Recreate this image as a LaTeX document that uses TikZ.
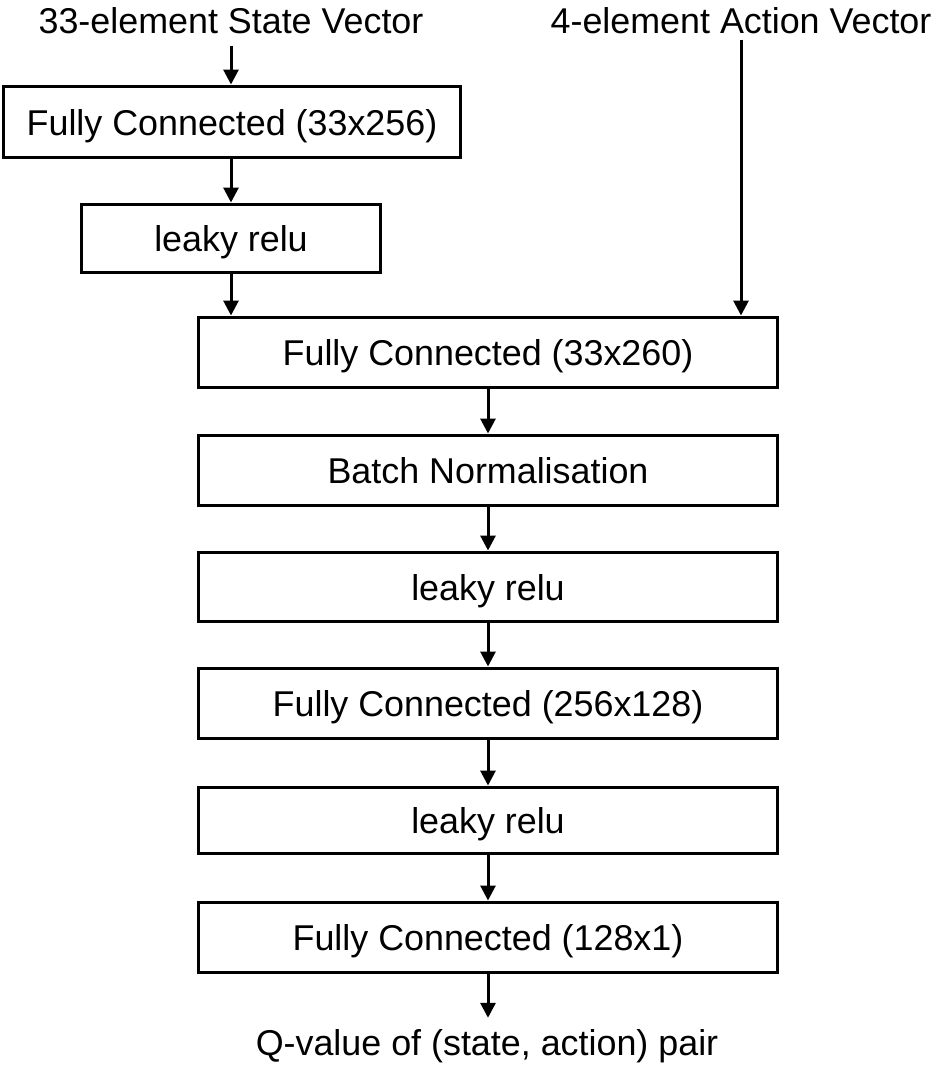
\documentclass[tikz,border=0pt]{standalone}
\usepackage{fontspec}
\setmainfont{Liberation Sans}
\usetikzlibrary{arrows.meta}
\tikzset{
  box/.style={draw, line width=3bp, inner sep=0pt, minimum height=#1, text height=27bp, text depth=0bp, font=\fontsize{36}{40}\selectfont},
  box/.default=70bp,
  lbl/.style={inner sep=0pt, font=\fontsize{36}{40}\selectfont},
  arr/.style={line width=3bp, -{Triangle[length=15bp,width=15bp]}},
}
\begin{document}
\begin{tikzpicture}[x=1bp,y=-1bp]
\useasboundingbox (0,0) rectangle (941,1070);
% input labels
\node[lbl, anchor=base, inner ysep=12bp] (state) at (231,33) {33-element State Vector};
\node[lbl, anchor=base, inner ysep=6bp] (action) at (741,33) {4-element Action Vector};
% boxes
\node[box=71bp, minimum width=456bp] (fc1) at (232,121.5) {Fully Connected (33x256)};
\node[box=68bp, minimum width=298bp] (lr1) at (231,238) {leaky relu};
\node[box, minimum width=578bp] (fc2) at (488,352) {Fully Connected (33x260)};
\node[box, minimum width=578bp] (bn) at (488,470) {Batch Normalisation};
\node[box=69bp, minimum width=578bp] (lr2) at (488,586.5) {leaky relu};
\node[box, minimum width=578bp] (fc3) at (488,703) {Fully Connected (256x128)};
\node[box=66bp, minimum width=578bp] (lr3) at (488,820) {leaky relu};
\node[box, minimum width=578bp] (fc4) at (488,937) {Fully Connected (128x1)};
% output label
\node[lbl, anchor=base, text height=26bp, text depth=8bp, inner ysep=11bp] (q) at (487,1055) {Q-value of (state, action) pair};
% connectors
\draw[arr] (state.south) -- (state.south |- fc1.north);
\draw[arr] (fc1.south -| state.south) -- (state.south |- lr1.north);
\draw[arr] (lr1.south -| state.south) -- (state.south |- fc2.north);
\draw[arr] (action.south) -- (action.south |- fc2.north);
\draw[arr] (fc2.south) -- (bn.north);
\draw[arr] (bn.south) -- (lr2.north);
\draw[arr] (lr2.south) -- (fc3.north);
\draw[arr] (fc3.south) -- (lr3.north);
\draw[arr] (lr3.south) -- (fc4.north);
\draw[arr] (fc4.south) -- (fc4.south |- q.north);
\end{tikzpicture}
\end{document}
